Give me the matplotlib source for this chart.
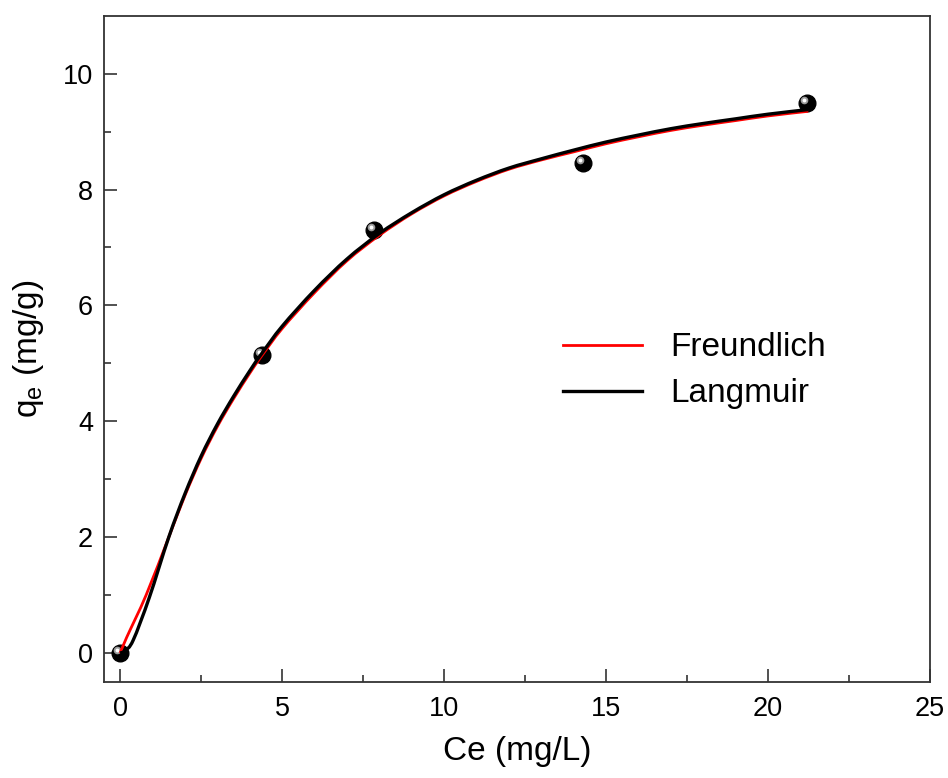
import matplotlib
matplotlib.use("Agg")
import matplotlib.pyplot as plt
import matplotlib.transforms as mtransforms
from matplotlib.path import Path
from matplotlib.patches import PathPatch
from matplotlib.lines import Line2D

plt.rcParams['font.family'] = ['Liberation Sans', 'DejaVu Sans']

# Experimental data
ce_data = [0.0, 4.37, 7.83, 14.30, 21.21]
qe_data = [0.0, 5.14, 7.30, 8.46, 9.50]

# Fitted curves
fr_x = [0, 0.2, 0.8, 1.5, 2, 2.5, 3, 3.5, 4, 4.37, 5, 6, 7, 8, 9, 10, 11, 12,
        13, 14, 15, 16, 17, 18, 19, 20, 21.24]
fr_y = [0, 0.27, 1.0, 2.0, 2.72, 3.36, 3.91, 4.39, 4.83, 5.13, 5.60, 6.22, 6.77,
        7.21, 7.58, 7.89, 8.14, 8.35, 8.51, 8.65, 8.79, 8.91, 9.02, 9.11, 9.19,
        9.27, 9.35]
la_x = [0, 0.15, 0.4, 0.9, 1.5, 2, 2.5, 3, 3.5, 4, 4.37, 5, 6, 7, 8, 9, 10, 11,
        12, 13, 14, 15, 16, 17, 18, 19, 20, 21.24]
la_y = [0, 0.04, 0.22, 0.96, 2.0, 2.75, 3.40, 3.95, 4.43, 4.87, 5.17, 5.64, 6.26,
        6.80, 7.24, 7.60, 7.91, 8.16, 8.37, 8.53, 8.68, 8.82, 8.94, 9.05, 9.14,
        9.22, 9.30, 9.38]

x_ticks = [0, 5, 10, 15, 20, 25]
y_ticks = [0, 2, 4, 6, 8, 10]


def smooth_path(xs, ys):
    """Catmull-Rom style cubic Bezier path through the given points."""
    pts = list(zip(xs, ys))
    verts = [pts[0]]
    codes = [Path.MOVETO]
    n = len(pts)
    for i in range(n - 1):
        p0 = pts[i - 1] if i > 0 else pts[i]
        p1 = pts[i]
        p2 = pts[i + 1]
        p3 = pts[i + 2] if i + 2 < n else pts[i + 1]
        c1 = (p1[0] + (p2[0] - p0[0]) / 6, p1[1] + (p2[1] - p0[1]) / 6)
        c2 = (p2[0] - (p3[0] - p1[0]) / 6, p2[1] - (p3[1] - p1[1]) / 6)
        verts += [c1, c2, p2]
        codes += [Path.CURVE4] * 3
    return Path(verts, codes)


fig = plt.figure(figsize=(9.48, 7.78), dpi=100)
ax = fig.add_axes([104/948, 1-682/778, (930-104)/948, (682-15.7)/778])

# data markers (spheres)
ax.plot(ce_data, qe_data, 'o', color='black', ms=12, zorder=2, mec='black')
off = mtransforms.ScaledTranslation(-3/100, 3/100, fig.dpi_scale_trans)
ax.plot(ce_data, qe_data, 'o', color='#9a9a9a', ms=5.5, mew=0, zorder=2.1,
        transform=ax.transData + off)
ax.plot(ce_data, qe_data, 'o', color='white', ms=2.8, mew=0, zorder=2.2,
        transform=ax.transData + off)

ax.add_patch(PathPatch(smooth_path(fr_x, fr_y), fill=False, edgecolor='#ff0000',
                       lw=2.0, zorder=3, capstyle='butt'))
ax.add_patch(PathPatch(smooth_path(la_x, la_y), fill=False, edgecolor='black',
                       lw=2.4, zorder=4, capstyle='butt'))

ax.set_xlim(-0.5, 25)
ax.set_ylim(-0.5, 11)
ax.set_xticks(x_ticks)
ax.set_yticks(y_ticks)
ax.set_xticks([2.5, 7.5, 12.5, 17.5, 22.5], minor=True)
ax.set_yticks([1, 3, 5, 7, 9], minor=True)

ax.tick_params(which='both', direction='in', top=False, right=False,
               width=1.2, color='#333333', labelsize=19.5)
ax.tick_params(which='major', length=9.5)
ax.tick_params(which='minor', length=5)
ax.tick_params(axis='x', pad=10)
ax.tick_params(axis='y', pad=8)
for s in ax.spines.values():
    s.set_linewidth(1.3)
    s.set_color('#333333')

ax.set_xlabel('Ce (mg/L)', fontsize=24, labelpad=10)
ax.set_ylabel('q$_\\mathregular{e}$ (mg/g)', fontsize=24, labelpad=12)

handles = [Line2D([], [], color='#ff0000', lw=2.0),
           Line2D([], [], color='black', lw=2.4)]
labels = ['Freundlich', 'Langmuir']
ax.legend(handles, labels, loc='center left', bbox_to_anchor=(0.556, 0.467),
          frameon=False, fontsize=24, handlelength=2.36, handletextpad=0.85,
          borderpad=0, borderaxespad=0, labelspacing=0.45)

fig.savefig('out.png', dpi=100)
